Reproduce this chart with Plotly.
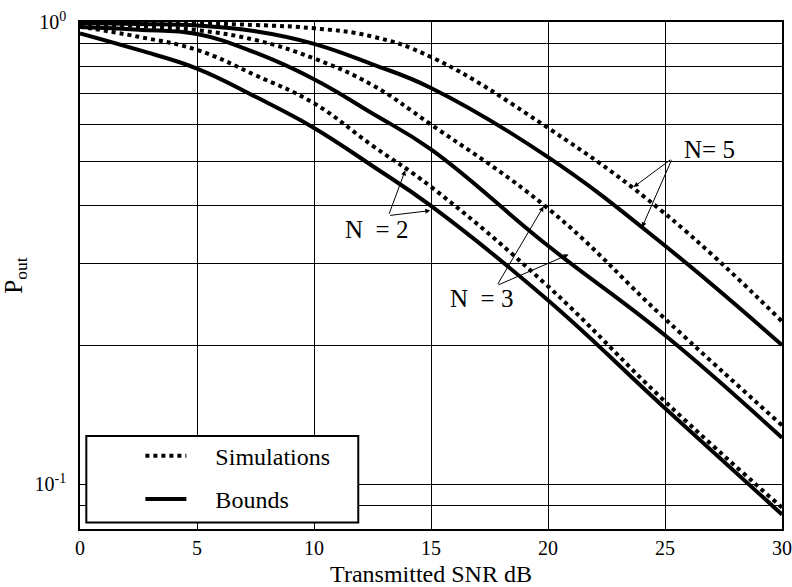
import numpy as np
import plotly.graph_objects as go

snr_db = [0, 2.5, 5, 7.5, 10, 12.5, 15, 20, 25, 30]

sim_n2 = [0.977, 0.929, 0.870, 0.767, 0.667, 0.540, 0.440, 0.268, 0.151, 0.089]
bnd_n2 = [0.945, 0.870, 0.793, 0.689, 0.590, 0.488, 0.400, 0.250, 0.146, 0.086]
sim_n3 = [0.990, 0.980, 0.960, 0.914, 0.834, 0.730, 0.600, 0.395, 0.228, 0.134]
bnd_n3 = [0.975, 0.962, 0.942, 0.858, 0.752, 0.634, 0.530, 0.328, 0.210, 0.126]
sim_n5 = [1.000, 0.998, 0.993, 0.985, 0.969, 0.930, 0.840, 0.590, 0.385, 0.225]
bnd_n5 = [0.995, 0.990, 0.983, 0.955, 0.897, 0.810, 0.720, 0.510, 0.328, 0.200]

x_ticks = [0, 5, 10, 15, 20, 25, 30]
y_ticks = [0.09, 0.1, 0.2, 0.3, 0.4, 0.5, 0.6, 0.7, 0.8, 0.9, 1.0]
y_ticktext = ["", "10<sup>-1</sup>", "", "", "", "", "", "", "", "", "10<sup>0</sup>"]

FONT = "Liberation Serif"
NB = "\u00a0\u00a0\u00a0\u00a0"

fig = go.Figure()
series = [
    ("Simulations", sim_n2, "dot", True),
    ("Bounds", bnd_n2, "solid", True),
    ("Simulations", sim_n3, "dot", False),
    ("Bounds", bnd_n3, "solid", False),
    ("Simulations", sim_n5, "dot", False),
    ("Bounds", bnd_n5, "solid", False),
]
for name, vals, dash, show in series:
    fig.add_trace(go.Scatter(
        x=snr_db, y=vals, mode="lines", name=NB + name,
        line=dict(color="black", width=4, dash=dash, shape="spline", smoothing=1.2),
        showlegend=show, legendgroup=name,
    ))

# annotation labels and arrows
labels = [("N\u00a0 = 2", 12.66, -0.449), ("N\u00a0 = 3", 17.15, -0.599),
          ("N= 5", 26.9, -0.2755)]
arrows = [  # head x, head log10(y), tail offset px
    (13.9, -0.321, -16.7, 45), (14.97, -0.408, -41.7, 5),
    (19.81, -0.399, -46.6, 79), (20.88, -0.503, -71.6, 31),
    (23.66, -0.357, 38.4, -28.4), (24.02, -0.444, 30, -68.4),
]
for t, xx, yy in labels:
    fig.add_annotation(x=xx, y=yy, text=t, showarrow=False,
                       font=dict(family=FONT, size=25, color="black"))
for hx, hy, ax, ay in arrows:
    fig.add_annotation(x=hx, y=hy, ax=ax, ay=ay, text="", showarrow=True,
                       arrowhead=2, arrowsize=1, arrowwidth=1, arrowcolor="black")

# legend box
fig.add_shape(type="rect", xref="paper", yref="paper", x0=0.009, x1=0.3964,
              y0=0.0126, y1=0.1835, line=dict(color="black", width=2),
              fillcolor="white", layer="above")

fig.update_layout(
    width=792, height=587,
    margin=dict(l=80, r=10, t=22, b=58),
    paper_bgcolor="white", plot_bgcolor="white",
    font=dict(family=FONT, size=20, color="black"),
    showlegend=True,
    legend=dict(x=0.086, y=0.188, xanchor="left", yanchor="top",
                bgcolor="rgba(0,0,0,0)", borderwidth=0,
                font=dict(family=FONT, size=24), tracegroupgap=9,
                itemwidth=41),
    xaxis=dict(range=[0, 30], tickvals=x_ticks, showgrid=True, gridcolor="black",
               gridwidth=1, showline=True, linecolor="black", linewidth=1.5,
               mirror=True, ticks="", zeroline=False, automargin=False,
               title=dict(text="Transmitted SNR dB", font=dict(size=24), standoff=8),
               tickfont=dict(size=20)),
    yaxis=dict(type="log", range=[np.log10(0.08), 0], tickvals=y_ticks,
               ticktext=y_ticktext, showgrid=True, gridcolor="black", gridwidth=1,
               showline=True, linecolor="black", linewidth=1.5, mirror=True,
               ticks="", zeroline=False, automargin=False, ticklabelstandoff=8,
               title=dict(text="P<sub>out</sub>", font=dict(size=25), standoff=14),
               tickfont=dict(size=20)),
)

fig.write_html("out.html", config={"displayModeBar": False},
               post_script="document.body.style.margin='0';document.body.style.overflow='hidden';")
